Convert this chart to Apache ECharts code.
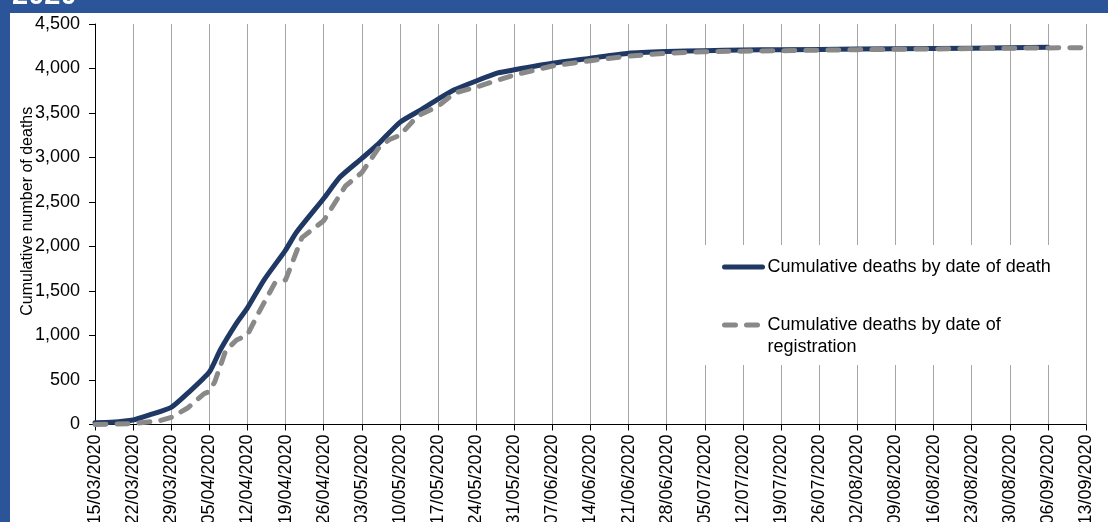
<!DOCTYPE html>
<html><head><meta charset="utf-8">
<script src="https://cdn.jsdelivr.net/npm/echarts@6/dist/echarts.min.js"></script>
<style>html,body{margin:0;padding:0;background:#2b5499;} #c{width:1108px;height:522px;}</style>
</head><body><div id="c"></div>
<script>
const xTickLabels = ['15/03/2020','22/03/2020','29/03/2020','05/04/2020','12/04/2020','19/04/2020','26/04/2020','03/05/2020','10/05/2020','17/05/2020','24/05/2020','31/05/2020','07/06/2020','14/06/2020','21/06/2020','28/06/2020','05/07/2020','12/07/2020','19/07/2020','26/07/2020','02/08/2020','09/08/2020','16/08/2020','23/08/2020','30/08/2020','06/09/2020','13/09/2020'];
// day offsets from 15/03/2020
const deathDays   = [0,3,7,10,14,17,21,23,26,28,31,35,37,42,45,49,52,56,60,63,66,70,74,77,84,91,98,105,112,119,126,140,154,168,175];
const deathValues = [20,25,50,107,193,350,590,837,1140,1310,1620,1960,2160,2540,2780,2990,3150,3395,3540,3655,3760,3860,3950,3985,4058,4115,4171,4190,4200,4209,4211,4218,4225,4232,4238];
const regDays   = [0,7,12,14,17,20,21,22,24,26,28,30,33,35,38,42,46,49,52,54,56,59,60,63,66,70,74,77,84,91,98,105,112,126,140,154,168,182];
const regValues = [0,10,45,80,185,345,370,480,830,950,1006,1250,1586,1625,2100,2290,2680,2830,3100,3200,3250,3450,3490,3575,3725,3790,3870,3927,4028,4088,4140,4171,4189,4200,4212,4220,4228,4235];
const seriesNames = ['Cumulative deaths by date of death','Cumulative deaths by date of registration'];
const legendLabels = ['Cumulative deaths by date of death','Cumulative deaths by date of\nregistration'];
const yTicks = {min:0, max:4500, step:500};
const headerText = '2020';
const yAxisTitle = 'Cumulative number of deaths';

const FONT = '"Liberation Sans", Arial, sans-serif';
const chart = echarts.init(document.getElementById('c'), null, {renderer:'canvas'});
const zip = (a,b) => a.map((d,i)=>[d,b[i]]);
chart.setOption({
  backgroundColor: '#2b5499',
  animation: false,
  graphic: [
    {type:'rect', left:10, top:13, shape:{width:1098, height:509}, style:{fill:'#fff'}, z:-10, silent:true},
    {type:'text', left:12, top:-19, style:{text:headerText, fill:'#fff', font:'bold 29px ' + FONT}, z:10}
  ],
  grid: {left:95, right:22, top:24, bottom:97.5, containLabel:false, outerBoundsMode:'none'},
  legend: {
    orient:'vertical', left:692, top:245,
    backgroundColor:'#fff',
    padding:[11,28,7,30],
    itemWidth:38, itemHeight:14, itemGap:14,
    textStyle:{fontSize:18, color:'#000', fontFamily:FONT, lineHeight:22},
    lineStyle:{width:5, cap:'round'},
    itemStyle:{opacity:0, color:'rgba(0,0,0,0)', borderWidth:0},
    data:[{name:seriesNames[0]},{name:seriesNames[1]}],
    formatter: n => n === seriesNames[1] ? '\n' + legendLabels[1] : legendLabels[0]
  },
  xAxis: {
    type:'value', min:0, max:182, interval:7,
    axisLine:{lineStyle:{color:'#000', width:1}},
    axisTick:{length:6, lineStyle:{color:'#000'}},
    axisLabel:{rotate:90, margin:10, fontSize:18, color:'#000', fontFamily:FONT,
      formatter: v => xTickLabels[Math.round(v/7)] || ''},
    splitLine:{show:true, lineStyle:{color:'#a6a6a6', width:1}}
  },
  yAxis: {
    type:'value', min:yTicks.min, max:yTicks.max, interval:yTicks.step,
    name: yAxisTitle, nameLocation:'middle', nameGap:59, nameMoveOverlap:false,
    nameTextStyle:{fontSize:16, color:'#000', fontFamily:FONT, padding:[0,0,0,26]},
    axisLine:{show:true, lineStyle:{color:'#000', width:1}},
    axisTick:{show:true, length:6, lineStyle:{color:'#000'}},
    axisLabel:{margin:15, fontSize:18, color:'#000', fontFamily:FONT,
      formatter: v => v.toLocaleString('en-GB')},
    splitLine:{show:false}
  },
  series: [
    {name:seriesNames[0], type:'line', data:zip(deathDays, deathValues), symbol:'none', smooth:0.2,
     lineStyle:{color:'#1f3864', width:5, cap:'round', join:'round'}, itemStyle:{color:'#1f3864'}},
    {name:seriesNames[1], type:'line', data:zip(regDays, regValues), symbol:'none',
     lineStyle:{color:'#898989', width:5, type:[11,11], cap:'round', join:'round'}, itemStyle:{color:'#898989'}}
  ]
});
</script></body></html>
